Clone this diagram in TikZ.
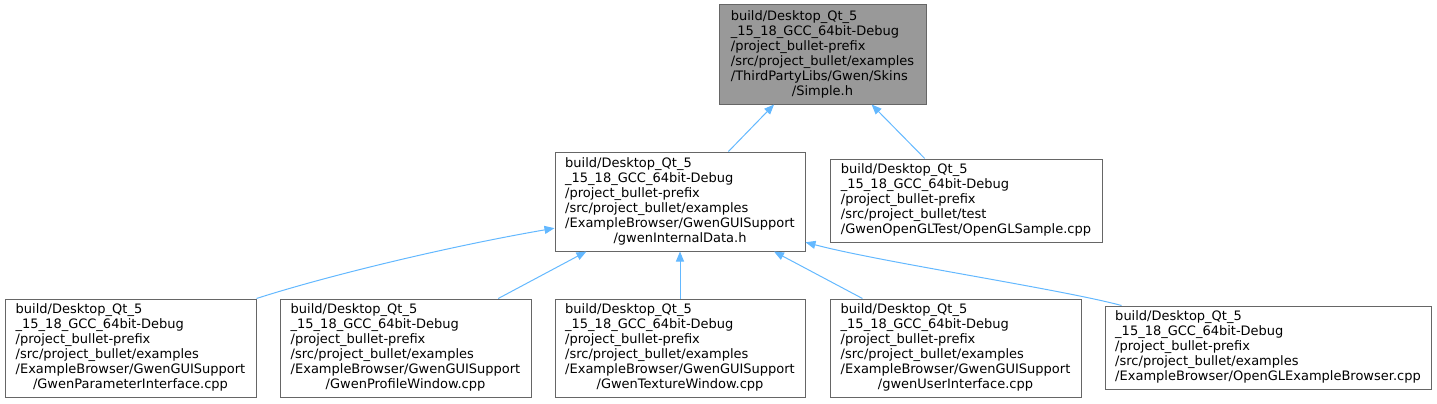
\documentclass[tikz,border=0pt]{standalone}
\usepackage{fontspec}
\setmainfont{DejaVu Sans}
\usepackage{tikz}
\usetikzlibrary{arrows.meta,positioning}
\usepackage{xcolor}
\definecolor{edgeblue}{HTML}{63B8FF}
\definecolor{boxline}{HTML}{666666}
\definecolor{focusfill}{HTML}{999999}

% file name split over lines, last line centred
\newcommand\fpath[2]{\begin{tabular}{@{}l@{}}#1\\\multicolumn{1}{@{}c@{}}{#2}\end{tabular}}

\begin{document}
\begin{tikzpicture}[
    x=0.75pt, y=-0.75pt,
    file/.style={rectangle, draw=boxline, line width=0.75pt, fill=white,
                 inner sep=0pt, font=\fontsize{9.75}{11.25}\selectfont},
    boxsize/.style 2 args={minimum width={0.75pt*#1}, minimum height={0.75pt*#2}},
    focus/.style={file, fill=focusfill},
    dep/.style={-{Triangle[length=7.5pt,width=6pt]}, edgeblue, line width=0.75pt},
]
\useasboundingbox (0,0) rectangle (1437,403);

% Included file and the files that include it.
\node[focus, boxsize={207}{99}] (simple) at (822.5,54.5)
  {\fpath{build/Desktop\_Qt\_5\\\_15\_18\_GCC\_64bit-Debug\\/project\_bullet-prefix\\/src/project\_bullet/examples\\/ThirdPartyLibs/Gwen/Skins}{/Simple.h}};
\node[file, boxsize={250}{99}] (internaldata) at (680,201.5)
  {\fpath{build/Desktop\_Qt\_5\\\_15\_18\_GCC\_64bit-Debug\\/project\_bullet-prefix\\/src/project\_bullet/examples\\/ExampleBrowser/GwenGUISupport}{/gwenInternalData.h}};
\node[file, boxsize={272}{83}] (glsample) at (966,200.5)
  {\fpath{build/Desktop\_Qt\_5\\\_15\_18\_GCC\_64bit-Debug\\/project\_bullet-prefix\\/src/project\_bullet/test}{/GwenOpenGLTest/OpenGLSample.cpp}};

% Bottom row.
\node[file, boxsize={251}{98}] (paramiface) at (130.5,348)
  {\fpath{build/Desktop\_Qt\_5\\\_15\_18\_GCC\_64bit-Debug\\/project\_bullet-prefix\\/src/project\_bullet/examples\\/ExampleBrowser/GwenGUISupport}{/GwenParameterInterface.cpp}};
\node[file, boxsize={251}{98}] (profilewin) at (405.5,348)
  {\fpath{build/Desktop\_Qt\_5\\\_15\_18\_GCC\_64bit-Debug\\/project\_bullet-prefix\\/src/project\_bullet/examples\\/ExampleBrowser/GwenGUISupport}{/GwenProfileWindow.cpp}};
\node[file, boxsize={250}{98}] (texturewin) at (680,348)
  {\fpath{build/Desktop\_Qt\_5\\\_15\_18\_GCC\_64bit-Debug\\/project\_bullet-prefix\\/src/project\_bullet/examples\\/ExampleBrowser/GwenGUISupport}{/GwenTextureWindow.cpp}};
\node[file, boxsize={251}{98}] (userui) at (955.5,348)
  {\fpath{build/Desktop\_Qt\_5\\\_15\_18\_GCC\_64bit-Debug\\/project\_bullet-prefix\\/src/project\_bullet/examples\\/ExampleBrowser/GwenGUISupport}{/gwenUserInterface.cpp}};
\node[file, boxsize={326}{83}] (glbrowser) at (1268,347.5)
  {\fpath{build/Desktop\_Qt\_5\\\_15\_18\_GCC\_64bit-Debug\\/project\_bullet-prefix\\/src/project\_bullet/examples}{/ExampleBrowser/OpenGLExampleBrowser.cpp}};

% Include edges.
\draw[dep] (internaldata) -- (simple);
\draw[dep] (glsample) -- (simple);
\draw[dep] (paramiface.north east) .. controls (320,278) and (440,248) .. (internaldata.192);
\draw[dep] (profilewin) -- (internaldata);
\draw[dep] (texturewin) -- (internaldata);
\draw[dep] (userui) -- (internaldata);
\draw[dep] (glbrowser.164) .. controls (1060,289) and (880,262) .. (internaldata.342);
\end{tikzpicture}
\end{document}
